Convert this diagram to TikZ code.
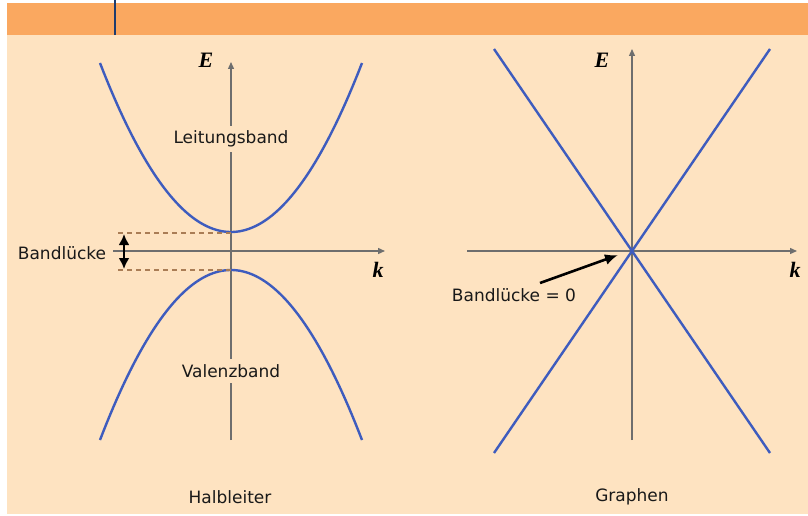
\documentclass[tikz,border=0pt]{standalone}
\usepackage{fontspec}
\setmainfont{DejaVu Sans}
\newfontfamily\serifbi{Liberation Serif}
\usetikzlibrary{arrows.meta}
\definecolor{bandorange}{RGB}{250,168,96}
\definecolor{peach}{RGB}{254,227,193}
\definecolor{bandblue}{RGB}{62,92,190}
\definecolor{axisgray}{RGB}{110,110,110}
\definecolor{gapbrown}{RGB}{170,125,85}
\definecolor{topblue}{RGB}{30,60,110}
\tikzset{
  band/.style={draw=bandblue, line width=2.4pt},
  axisline/.style={draw=axisgray, line width=1.3pt, -{Triangle[length=7pt,width=6pt]}},
  gapline/.style={draw=gapbrown, line width=1.5pt, dash pattern=on 5pt off 4pt},
  pointer/.style={draw=black, line width=2.6pt},
  lbl/.style={font=\fontsize{17}{20}\selectfont, text=black!90, inner sep=0pt},
  axlbl/.style={font=\fontsize{22}{24}\selectfont\serifbi\bfseries\itshape, inner sep=0pt},
  cutlbl/.style={lbl, fill=peach, inner ysep=5pt, inner xsep=2pt}
}
\begin{document}
\begin{tikzpicture}[x=1pt,y=-1pt]
\useasboundingbox (0,0) rectangle (808,516);
\fill[white] (0,0) rectangle (808,516);
\fill[peach] (7,35) rectangle (808,514);
\fill[bandorange] (7,3) rectangle (808,35);
\coordinate (tl0) at (115,0);
\coordinate (tl1) at (115,35);
\draw[topblue, line width=1.5pt] (tl0) -- (tl1);

% ---------- left: Halbleiter ----------
\coordinate (LEb) at (231,440);
\coordinate (LEt) at (231,62);
\coordinate (LKl) at (113,251);
\coordinate (LKr) at (385,251);
\draw[axisline] (LKl) -- (LKr);
\draw[axisline] (LEb) -- (LEt);
\draw[band] plot[domain=-131:131, samples=80] ({231+\x}, {232-169*(\x/131)^2});
\draw[band] plot[domain=-131:131, samples=80] ({231+\x}, {270+170*(\x/131)^2});
\coordinate (cb) at (231,233);
\coordinate (vb) at (231,270);
\coordinate (cbl) at (118,233);
\coordinate (vbl) at (118,270);
\draw[gapline] (cbl) -- (cb);
\draw[gapline] (vbl) -- (vb);
\coordinate (ga) at (124,234);
\coordinate (gb) at (124,269);
\draw[pointer, {Latex[length=11pt,width=11pt]}-{Latex[length=11pt,width=11pt]}] (ga) -- (gb);
\node[cutlbl] (leit) at (231,139) {Leitungsband};
\node[cutlbl] (val) at (231,371) {Valenzband};
\node[lbl] (gap) at (62,253) {Bandlücke};
\node[axlbl] (LE) at (206,60) {E};
\node[axlbl] (Lk) at (378,270) {k};
\node[lbl] (halb) at (230,497) {Halbleiter};

% ---------- right: Graphen ----------
\coordinate (REb) at (632,440);
\coordinate (REt) at (632,49);
\coordinate (RKl) at (467,251);
\coordinate (RKr) at (797,251);
\draw[axisline] (RKl) -- (RKr);
\draw[axisline] (REb) -- (REt);
\coordinate (d1) at (494,49);
\coordinate (d2) at (770,453);
\coordinate (d3) at (770,49);
\coordinate (d4) at (494,453);
\draw[band] (d1) -- (d2);
\draw[band] (d3) -- (d4);
\node[lbl] (gap0) at (514,295) {Bandlücke = 0};
\coordinate (pa) at (540,283);
\coordinate (pb) at (618,255);
\draw[pointer, -{Latex[length=13pt,width=11pt]}] (pa) -- (pb);
\node[axlbl] (RE) at (602,60) {E};
\node[axlbl] (Rk) at (795,270) {k};
\node[lbl] (graph) at (632,497) {Graphen};
\end{tikzpicture}
\end{document}
